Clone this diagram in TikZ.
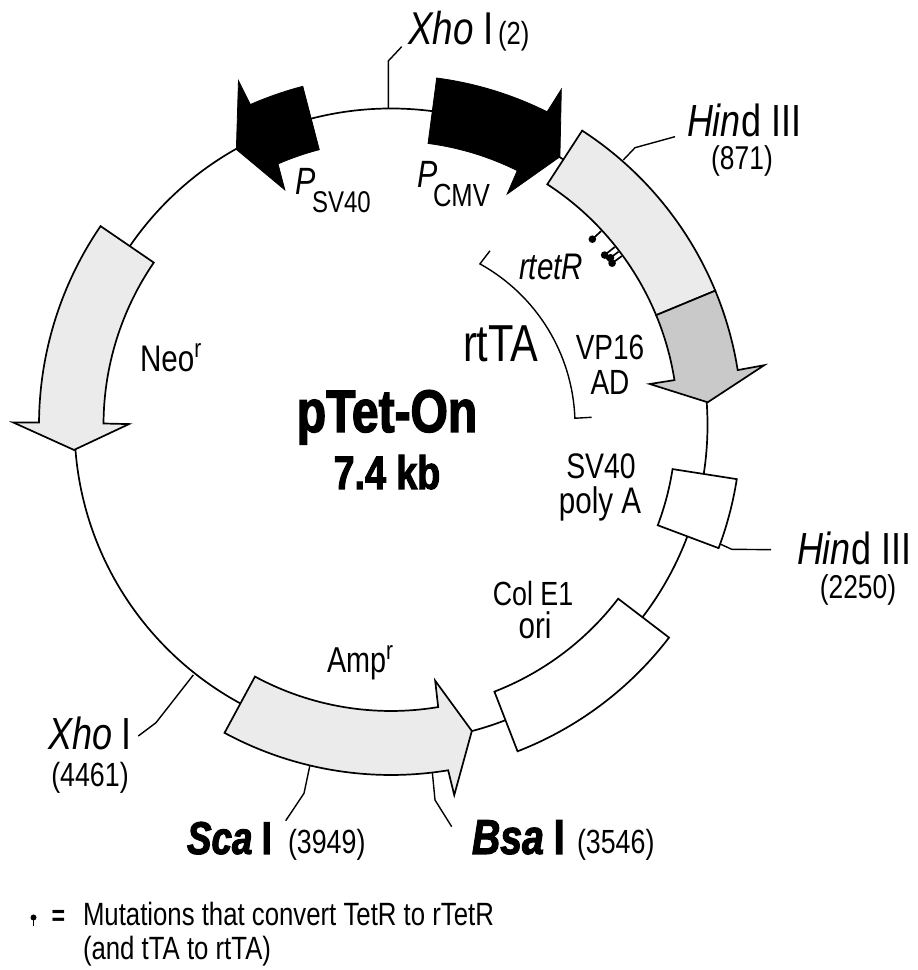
\documentclass[tikz,border=0pt]{standalone}
\usepackage{fontspec}
\setmainfont[FakeStretch=0.8]{Liberation Sans}
\newfontfamily\heavyf[FakeStretch=0.8,FakeBold=2.2]{Liberation Sans}
\newcommand{\fsz}[1]{\fontsize{#1}{#1}\selectfont}
\newcommand{\lab}[6]{\node[lbl,anchor=#4] (#1) at (#2,{970-#3}) {\fsz{#5}#6};}
\newcommand{\crd}[3]{\coordinate (#1) at (#2,{970-#3});}
\newcommand{\rsup}{\raisebox{0.38em}{\fontsize{26}{26}\selectfont r}}
\definecolor{geneL}{HTML}{EBEBEB}
\definecolor{geneD}{HTML}{C9C9C9}
\tikzset{
  lbl/.style={inner sep=0pt,outer sep=0pt,text=black},
  gene/.style={draw=black,line width=1.7pt,line join=miter,miter limit=10},
  lightgene/.style={gene,fill=geneL},
  darkgene/.style={gene,fill=geneD},
  whitegene/.style={gene,fill=white},
  blackgene/.style={gene,fill=black,line width=0.8pt},
  wire/.style={draw=black,line width=1.7pt,line join=miter},
  thinwire/.style={draw=black,line width=1.4pt,line join=miter}
}
\begin{document}
\begin{tikzpicture}[x=1pt,y=1pt]
\useasboundingbox (0,0) rectangle (918,970);
\fill[white] (0,0) rectangle (918,970);
% leader lines
\crd{xa}{388.3}{108.5}\crd{xb}{388.3}{61}\crd{xc}{401.7}{46.7}
\draw[thinwire] (xa) -- (xb) -- (xc);
\crd{ha}{623.3}{160}\crd{hb}{635}{147.7}\crd{hc}{675}{136.7}
\draw[thinwire] (ha) -- (hb) -- (hc);
\crd{ia}{718}{543}\crd{ib}{731.7}{549.3}\crd{ic}{771}{549.7}
\draw[thinwire] (ia) -- (ib) -- (ic);
\crd{ja}{193.3}{675}\crd{jb}{156}{722.7}\crd{jc}{138.3}{736}
\draw[thinwire] (ja) -- (jb) -- (jc);
\crd{sa}{310}{765}\crd{sb}{304}{793.3}\crd{sc}{285.7}{820.7}
\draw[thinwire] (sa) -- (sb) -- (sc);
\crd{ba}{432.3}{772}\crd{bb}{435}{800}\crd{bc}{451.7}{826.7}
\draw[thinwire] (ba) -- (bb) -- (bc);
\begin{scope}[shift={(391,545)}]
  % backbone
  \draw[wire] (0,0) circle[radius=316.5pt];
  % Neo
  \draw[lightgene] (145.6:352pt) arc[start angle=145.6,end angle=179.6,radius=352pt]
    -- (179.6:378pt) -- (184.5:318pt) -- (179.8:262pt) -- (179.7:287.5pt)
    arc[start angle=179.7,end angle=145.6,radius=287.5pt] -- cycle;
  % P SV40
  \draw[blackgene] (104.6:350pt) arc[start angle=104.6,end angle=113.7,radius=350pt]
    -- (113.9:376.5pt) -- (119.3:316pt) -- (114.3:258pt) -- (113.4:284.5pt)
    arc[start angle=113.4,end angle=104.6,radius=284.5pt] -- cycle;
  % P CMV
  \draw[blackgene] (82.5:350pt) arc[start angle=82.5,end angle=63.5,radius=350pt]
    -- (63.1:376.5pt) -- (57.8:317pt) -- (63.3:258.5pt) -- (63.6:284pt)
    arc[start angle=63.6,end angle=82.5,radius=284pt] -- cycle;
  % rtetR part and VP16 part
  \draw[lightgene] (57:351pt) arc[start angle=57,end angle=22.5,radius=351pt]
    -- (22.5:287pt) arc[start angle=22.5,end angle=57,radius=287pt] -- cycle;
  \draw[darkgene] (22.5:351pt) arc[start angle=22.5,end angle=9,radius=351pt]
    -- (9.1:378pt) -- (4.1:317.5pt) -- (9:262pt) -- (9:287pt)
    arc[start angle=9,end angle=22.5,radius=287pt] -- cycle;
  % SV40 poly A
  \draw[whitegene] (-8.9:350pt) arc[start angle=-8.9,end angle=-20.6,radius=350pt]
    -- (-20.6:285pt) arc[start angle=-20.6,end angle=-8.9,radius=285pt] -- cycle;
  % Col E1 ori
  \draw[whitegene] (-37.4:350pt) arc[start angle=-37.4,end angle=-68.8,radius=350pt]
    -- (-68.8:286pt) arc[start angle=-68.8,end angle=-37.4,radius=286pt] -- cycle;
  % Amp
  \draw[lightgene] (241.6:350pt) arc[start angle=241.6,end angle=279.4,radius=350pt]
    -- (279.7:375.5pt) -- (284.8:316.5pt) -- (279.8:259.5pt) -- (279.5:286pt)
    arc[start angle=279.5,end angle=241.6,radius=286pt] -- cycle;
  % rtTA bracket
  \coordinate (ta) at (60.4:200.4pt);
  \coordinate (tb) at (2.2:200.8pt);
  \draw[thinwire] (ta) -- (61.1:184pt) arc[start angle=61.1,end angle=2.1,radius=184pt] -- (tb);
  % mutation markers
  \foreach \a/\rr in {42.7/274, 38.5/273, 37.3/276, 36.2/274}{
    \draw[black,line width=1.7pt] (\a:286pt) -- (\a:\rr pt);
    \fill[black] (\a:\rr pt) circle[radius=3.8pt];
  }
  \draw[black,line width=3pt] (38.5:273pt) -- (36.2:274pt);
\end{scope}
% labels
\lab{title}{387}{432}{base}{60}{\heavyf\bfseries pTet-On}
\lab{size}{387}{489}{base}{47}{\heavyf\bfseries 7.4 kb}
\lab{xho}{408}{45}{base west}{46}{\textit{Xho}\hspace{0.22em}I}
\lab{xhon}{498}{45}{base west}{32}{(2)}
\lab{hind}{687}{137}{base west}{45}{\textit{Hin}d III}
\lab{hindn}{742}{170}{base}{33}{(871)}
\lab{psv}{295}{195}{base west}{38}{\textit{P}}
\lab{psvs}{312}{213}{base west}{30}{SV40}
\lab{pcmv}{417}{188}{base west}{38}{\textit{P}}
\lab{pcmvs}{433}{207}{base west}{32}{CMV}
\lab{rtet}{519}{280}{base west}{37}{\textit{rtetR}}
\lab{rtta}{463}{362}{base west}{52}{rtTA}
\lab{vpa}{610}{360}{base}{35}{VP16}
\lab{vpb}{610}{395}{base}{35}{AD}
\lab{neo}{140}{372}{base west}{37}{Neo\rsup}
\lab{amp}{327}{673}{base west}{36}{Amp\rsup}
\lab{sva}{601}{479}{base}{35.5}{SV40}
\lab{svb}{600}{514}{base}{37}{poly A}
\lab{cola}{533}{606}{base}{33.5}{Col E1}
\lab{colb}{535}{639}{base}{37}{ori}
\lab{hinb}{797}{565}{base west}{45}{\textit{Hin}d III}
\lab{hinbn}{858}{599}{base}{33}{(2250)}
\lab{xhb}{48}{750}{base west}{45}{\textit{Xho}\hspace{0.22em}I}
\lab{xhbn}{90}{787}{base}{33.5}{(4461)}
\lab{sca}{187}{854}{base west}{46}{\heavyf\bfseries\itshape Sca\hspace{0.2em}\upshape I}
\lab{scan}{288}{854}{base west}{33.5}{(3949)}
\lab{bsa}{472}{854}{base west}{49}{\heavyf\bfseries\itshape Bsa\hspace{0.2em}\upshape I}
\lab{bsan}{577}{854}{base west}{33.5}{(3546)}
\lab{leq}{58.5}{925}{base}{29}{\bfseries =}
\lab{lega}{83}{925}{base west}{32.2}{Mutations that convert TetR to rTetR}
\lab{legb}{83}{960}{base west}{32.2}{(and tTA to rtTA)}
\crd{ka}{33.5}{917.5}\crd{kb}{33.5}{926.5}
\draw[black,line width=1.2pt] (ka) -- (kb);
\fill[black] (ka) circle[radius=3pt];
\end{tikzpicture}
\end{document}
